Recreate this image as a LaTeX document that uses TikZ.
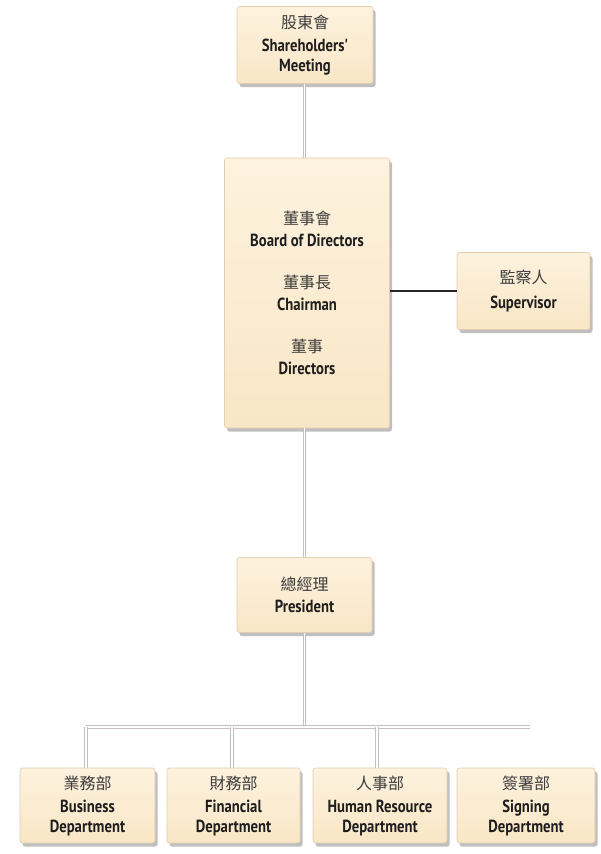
\documentclass[tikz,border=0pt]{standalone}
\usepackage{fontspec}
\newfontfamily\en{PT Sans}[FakeStretch=0.84]
\newfontfamily\cjk{Noto Sans CJK TC}
\usetikzlibrary{shadows}
\definecolor{boxfillA}{RGB}{253,242,222}
\definecolor{boxfillB}{RGB}{249,230,198}
\definecolor{boxline}{RGB}{226,206,176}
\definecolor{connline}{RGB}{200,190,190}
\definecolor{cjkcol}{RGB}{60,60,60}
\definecolor{txtcol}{RGB}{30,30,30}
\newcommand{\zh}[1]{{\cjk\mdseries\fontsize{16}{20}\selectfont\color{cjkcol}#1}}
\tikzset{
  box/.style={draw=boxline, line width=0.6pt, rounded corners=2.5pt,
    top color=boxfillA, bottom color=boxfillB,
    drop shadow={shadow xshift=2.5pt, shadow yshift=-3.5pt, fill=gray, opacity=0.5},
    inner sep=0pt, align=center, text=txtcol,
    font=\en\bfseries\fontsize{17.5}{20}\selectfont},
  conn/.style={draw=connline, double=white, double distance=1.3pt, line width=0.9pt},
  darkconn/.style={draw=black!85, line width=1.6pt}
}
\begin{document}
\begin{tikzpicture}[x=1pt,y=-1pt]
\fill[white] (0,0) rectangle (601,854);
\useasboundingbox (0,0) rectangle (601,854);

\coordinate (busL) at (86,727);
\coordinate (busR) at (530,727);

\node[box, minimum width=136pt, minimum height=77pt] (sh) at (305,45)
  {\zh{股東會}\\[3pt] Shareholders'\\ Meeting};
\node[box, minimum width=165pt, minimum height=270pt] (bd) at (307,293)
  {\zh{董事會}\\[2pt] Board of Directors\\[22pt]
   \zh{董事長}\\[2pt] Chairman\\[22pt]
   \zh{董事}\\[2pt] Directors};
\node[box, minimum width=133pt, minimum height=77pt] (sup) at (523.5,291)
  {\zh{監察人}\\[5pt] Supervisor};
\node[box, minimum width=135pt, minimum height=75pt] (pr) at (304.5,595)
  {\zh{總經理}\\[2pt] President};

\node[box, minimum width=135pt, minimum height=75pt] (b1) at (87.5,805.5)
  {\zh{業務部}\\[3pt] Business\\ Department};
\node[box, minimum width=133pt, minimum height=75pt] (b2) at (233.5,805.5)
  {\zh{財務部}\\[3pt] Financial\\ Department};
\node[box, minimum width=134pt, minimum height=75pt] (b3) at (380,805.5)
  {\zh{人事部}\\[3pt] Human Resource\\ Department};
\node[box, minimum width=138pt, minimum height=75pt] (b4) at (526,805.5)
  {\zh{簽署部}\\[3pt] Signing\\ Department};

\draw[conn] (sh.south -| pr.north) -- (bd.north -| pr.north);
\draw[conn] (bd.south -| pr.north) -- (pr.north);
\draw[conn] (pr.south) -- (pr.south |- busL);
\draw[conn] (busL) -- (busR);
\draw[conn] (busL) -- (busL |- b1.north);
\draw[conn] (b2.north -| 232,0) -- (232,727);
\draw[conn] (b3.north -| 377,0) -- (377,727);
\draw[darkconn] (bd.east |- sup.west) -- (sup.west);
\end{tikzpicture}
\end{document}
